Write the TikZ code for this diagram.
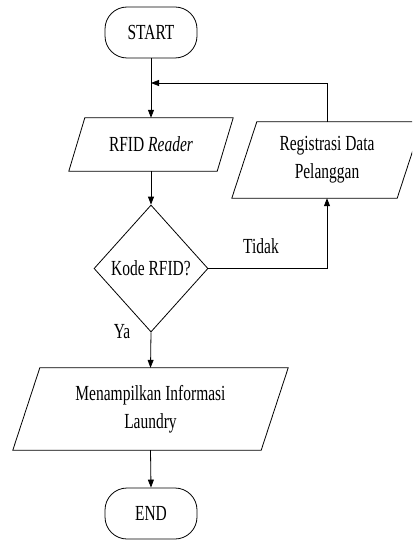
\documentclass[tikz,border=0pt]{standalone}
\usepackage{fontspec}
\setmainfont[FakeStretch=0.72]{Liberation Serif}
\usetikzlibrary{shapes.geometric,arrows.meta,calc}

% outline of a slanted (data) box around a node: #1 node, #2 horizontal slant
\newcommand\dataoutline[2]{%
  \draw[flowline] ($(#1.south west)+(-#2/2,0)$) -- ($(#1.north west)+(#2/2,0)$)
    -- ($(#1.north east)+(#2/2,0)$) -- ($(#1.south east)+(-#2/2,0)$) -- cycle;}

\begin{document}
\begin{tikzpicture}[x=1pt,y=-1pt,
  flowline/.style={line width=0.8pt,draw=black},
  flowarrow/.style={flowline,-{Triangle[length=8pt,width=6pt]}},
  lbl/.style={font=\fontsize{21.5}{28}\selectfont,align=center,inner sep=0pt},
  terminal/.style={lbl,flowline,rounded corners=22pt,minimum width=92pt,minimum height=51pt},
  databox/.style={lbl,rectangle,minimum width=#1},
  decision/.style={lbl,flowline,diamond,minimum width=114pt,minimum height=127pt}]

\useasboundingbox (0,0) rectangle (412,540);
\clip (0,0) rectangle (412,540);

% process steps
\node[terminal] (start) at (151,32.5) {START};
\node[databox=148pt,minimum height=53pt] (reader) at (151,144.5) {RFID \textit{Reader}};
\node[databox=165pt,minimum height=76pt] (reg) at (327,160) {Registrasi Data\\Pelanggan};
\node[decision] (check) at (151,268.5) {Kode RFID?};
\node[databox=248pt,minimum height=82pt] (info) at (150.5,409) {Menampilkan Informasi\\Laundry};
\node[terminal] (end) at (151,513.5) {END};

\dataoutline{reader}{16}
\dataoutline{reg}{25}
\dataoutline{info}{27}

% branch labels
\node[lbl] (tidak) at (261,246) {Tidak};
\node[lbl] (ya) at (122,332) {Ya};

% connectors
\coordinate (loop) at (151,83);
\draw[flowarrow] (start.south) -- (reader.north);
\draw[flowarrow] (reader.south) -- (check.north);
\draw[flowarrow] (check.south) -- (info.north);
\draw[flowarrow] (info.south) -- (end.north);
\draw[flowarrow] (check.east) -| (reg.south);
\draw[flowarrow] (reg.north) |- (loop);
\end{tikzpicture}
\end{document}
